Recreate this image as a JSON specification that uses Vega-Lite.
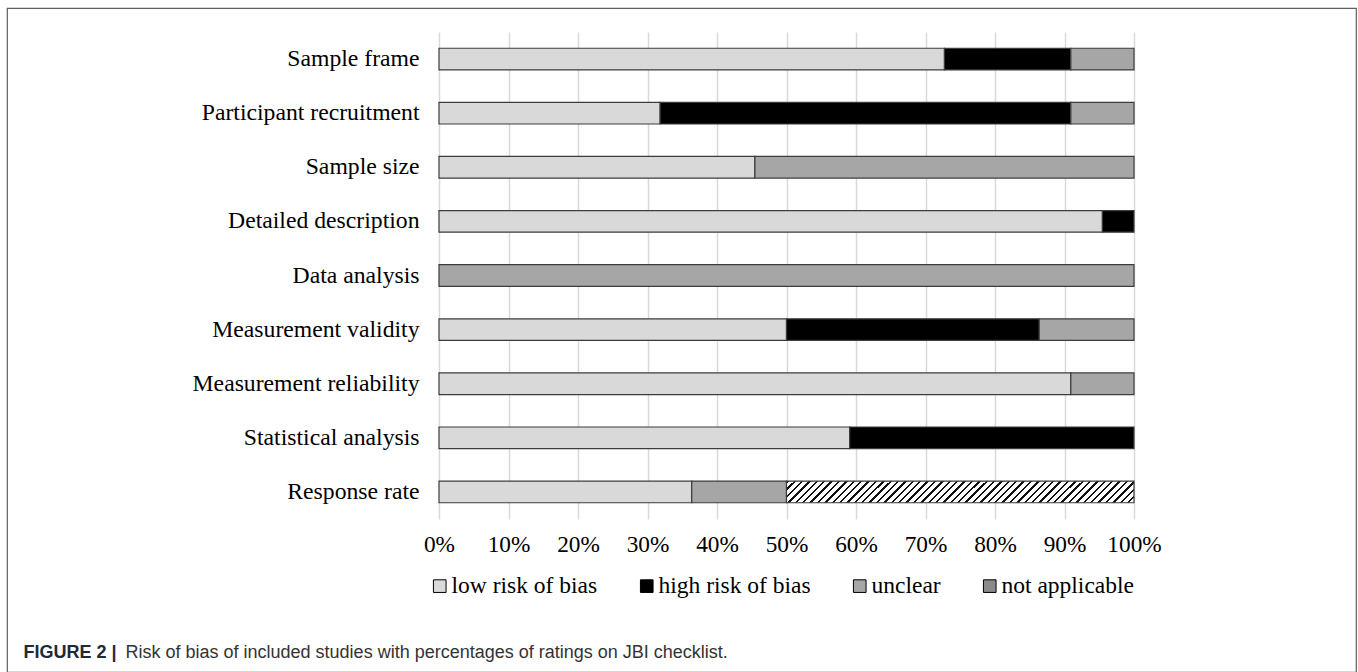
{
  "$schema": "https://vega.github.io/schema/vega-lite/v6.json",
  "autosize": {"type": "none"},
  "width": 1349,
  "height": 664,
  "padding": {"left": 7, "top": 8, "right": 2, "bottom": 0},
  "background": "white",
  "data": {
    "values": [
      {"item": "Sample frame", "rating": "low risk of bias", "k": 1, "n": 16},
      {"item": "Sample frame", "rating": "high risk of bias", "k": 2, "n": 4},
      {"item": "Sample frame", "rating": "unclear", "k": 3, "n": 2},
      {"item": "Participant recruitment", "rating": "low risk of bias", "k": 1, "n": 7},
      {"item": "Participant recruitment", "rating": "high risk of bias", "k": 2, "n": 13},
      {"item": "Participant recruitment", "rating": "unclear", "k": 3, "n": 2},
      {"item": "Sample size", "rating": "low risk of bias", "k": 1, "n": 10},
      {"item": "Sample size", "rating": "unclear", "k": 3, "n": 12},
      {"item": "Detailed description", "rating": "low risk of bias", "k": 1, "n": 21},
      {"item": "Detailed description", "rating": "high risk of bias", "k": 2, "n": 1},
      {"item": "Data analysis", "rating": "unclear", "k": 3, "n": 22},
      {"item": "Measurement validity", "rating": "low risk of bias", "k": 1, "n": 11},
      {"item": "Measurement validity", "rating": "high risk of bias", "k": 2, "n": 8},
      {"item": "Measurement validity", "rating": "unclear", "k": 3, "n": 3},
      {"item": "Measurement reliability", "rating": "low risk of bias", "k": 1, "n": 20},
      {"item": "Measurement reliability", "rating": "unclear", "k": 3, "n": 2},
      {"item": "Statistical analysis", "rating": "low risk of bias", "k": 1, "n": 13},
      {"item": "Statistical analysis", "rating": "high risk of bias", "k": 2, "n": 9},
      {"item": "Response rate", "rating": "low risk of bias", "k": 1, "n": 8},
      {"item": "Response rate", "rating": "unclear", "k": 3, "n": 3},
      {"item": "Response rate", "rating": "not applicable", "k": 4, "n": 11}
    ]
  },
  "mark": {"type": "bar", "stroke": "#3c3c3c", "strokeWidth": 1.2},
  "encoding": {
    "y": {
      "field": "item",
      "type": "nominal",
      "sort": ["Sample frame", "Participant recruitment", "Sample size", "Detailed description", "Data analysis", "Measurement validity", "Measurement reliability", "Statistical analysis", "Response rate"],
      "scale": {"range": [24, 511], "paddingInner": 0.6, "paddingOuter": 0.3},
      "axis": {
        "offset": -432,
        "labelFont": "Liberation Serif",
        "labelFontSize": 23.7,
        "labelColor": "#000000",
        "labelPadding": 20,
        "labelLimit": 400,
        "ticks": false,
        "domain": false,
        "grid": false,
        "title": "FIGURE 2 |",
        "titleX": -416,
        "titleY": 649,
        "titleAngle": 0,
        "titleAlign": "left",
        "titleBaseline": "alphabetic",
        "titleFont": "Liberation Sans",
        "titleFontSize": 18,
        "titleFontWeight": "bold",
        "titleColor": "#1e2a36"
      }
    },
    "x": {
      "field": "n",
      "type": "quantitative",
      "stack": "normalize",
      "scale": {"range": [432, 1127]},
      "axis": {
        "offset": -153,
        "values": [0, 0.1, 0.2, 0.3, 0.4, 0.5, 0.6, 0.7, 0.8, 0.9, 1],
        "format": ".0%",
        "labelFont": "Liberation Serif",
        "labelFontSize": 23.3,
        "labelColor": "#000000",
        "labelPadding": 501,
        "ticks": true,
        "tickSize": -487,
        "tickColor": "#d9d9d9",
        "tickWidth": 1.5,
        "domain": false,
        "grid": false,
        "labelFlush": false,
        "zindex": 0,
        "title": "Risk of bias of included studies with percentages of ratings on JBI checklist.",
        "titleX": 118,
        "titleY": 138,
        "titleAlign": "left",
        "titleBaseline": "alphabetic",
        "titleFont": "Liberation Sans",
        "titleFontSize": 18,
        "titleFontWeight": "normal",
        "titleColor": "#333333"
      }
    },
    "order": {"field": "k", "type": "quantitative"},
    "fill": {
      "field": "rating",
      "type": "nominal",
      "sort": ["low risk of bias", "high risk of bias", "unclear", "not applicable"],
      "scale": {
        "domain": ["low risk of bias", "high risk of bias", "unclear", "not applicable"],
        "range": ["#d9d9d9", "#000000", "#a6a6a6", "#8a8a8a"]
      },
      "condition": {
        "test": "datum.rating === 'not applicable'",
        "value": {
          "gradient": "linear", "x1": 0, "y1": 0, "x2": 1.0584, "y2": 0.06615,
          "stops": [
            {"offset":0,"color":"#111"},{"offset":0.0065,"color":"#111"},{"offset":0.0065,"color":"#fff"},{"offset":0.02,"color":"#fff"},
            {"offset":0.02,"color":"#111"},{"offset":0.0265,"color":"#111"},{"offset":0.0265,"color":"#fff"},{"offset":0.04,"color":"#fff"},
            {"offset":0.04,"color":"#111"},{"offset":0.0465,"color":"#111"},{"offset":0.0465,"color":"#fff"},{"offset":0.06,"color":"#fff"},
            {"offset":0.06,"color":"#111"},{"offset":0.0665,"color":"#111"},{"offset":0.0665,"color":"#fff"},{"offset":0.08,"color":"#fff"},
            {"offset":0.08,"color":"#111"},{"offset":0.0865,"color":"#111"},{"offset":0.0865,"color":"#fff"},{"offset":0.10,"color":"#fff"},
            {"offset":0.10,"color":"#111"},{"offset":0.1065,"color":"#111"},{"offset":0.1065,"color":"#fff"},{"offset":0.12,"color":"#fff"},
            {"offset":0.12,"color":"#111"},{"offset":0.1265,"color":"#111"},{"offset":0.1265,"color":"#fff"},{"offset":0.14,"color":"#fff"},
            {"offset":0.14,"color":"#111"},{"offset":0.1465,"color":"#111"},{"offset":0.1465,"color":"#fff"},{"offset":0.16,"color":"#fff"},
            {"offset":0.16,"color":"#111"},{"offset":0.1665,"color":"#111"},{"offset":0.1665,"color":"#fff"},{"offset":0.18,"color":"#fff"},
            {"offset":0.18,"color":"#111"},{"offset":0.1865,"color":"#111"},{"offset":0.1865,"color":"#fff"},{"offset":0.20,"color":"#fff"},
            {"offset":0.20,"color":"#111"},{"offset":0.2065,"color":"#111"},{"offset":0.2065,"color":"#fff"},{"offset":0.22,"color":"#fff"},
            {"offset":0.22,"color":"#111"},{"offset":0.2265,"color":"#111"},{"offset":0.2265,"color":"#fff"},{"offset":0.24,"color":"#fff"},
            {"offset":0.24,"color":"#111"},{"offset":0.2465,"color":"#111"},{"offset":0.2465,"color":"#fff"},{"offset":0.26,"color":"#fff"},
            {"offset":0.26,"color":"#111"},{"offset":0.2665,"color":"#111"},{"offset":0.2665,"color":"#fff"},{"offset":0.28,"color":"#fff"},
            {"offset":0.28,"color":"#111"},{"offset":0.2865,"color":"#111"},{"offset":0.2865,"color":"#fff"},{"offset":0.30,"color":"#fff"},
            {"offset":0.30,"color":"#111"},{"offset":0.3065,"color":"#111"},{"offset":0.3065,"color":"#fff"},{"offset":0.32,"color":"#fff"},
            {"offset":0.32,"color":"#111"},{"offset":0.3265,"color":"#111"},{"offset":0.3265,"color":"#fff"},{"offset":0.34,"color":"#fff"},
            {"offset":0.34,"color":"#111"},{"offset":0.3465,"color":"#111"},{"offset":0.3465,"color":"#fff"},{"offset":0.36,"color":"#fff"},
            {"offset":0.36,"color":"#111"},{"offset":0.3665,"color":"#111"},{"offset":0.3665,"color":"#fff"},{"offset":0.38,"color":"#fff"},
            {"offset":0.38,"color":"#111"},{"offset":0.3865,"color":"#111"},{"offset":0.3865,"color":"#fff"},{"offset":0.40,"color":"#fff"},
            {"offset":0.40,"color":"#111"},{"offset":0.4065,"color":"#111"},{"offset":0.4065,"color":"#fff"},{"offset":0.42,"color":"#fff"},
            {"offset":0.42,"color":"#111"},{"offset":0.4265,"color":"#111"},{"offset":0.4265,"color":"#fff"},{"offset":0.44,"color":"#fff"},
            {"offset":0.44,"color":"#111"},{"offset":0.4465,"color":"#111"},{"offset":0.4465,"color":"#fff"},{"offset":0.46,"color":"#fff"},
            {"offset":0.46,"color":"#111"},{"offset":0.4665,"color":"#111"},{"offset":0.4665,"color":"#fff"},{"offset":0.48,"color":"#fff"},
            {"offset":0.48,"color":"#111"},{"offset":0.4865,"color":"#111"},{"offset":0.4865,"color":"#fff"},{"offset":0.50,"color":"#fff"},
            {"offset":0.50,"color":"#111"},{"offset":0.5065,"color":"#111"},{"offset":0.5065,"color":"#fff"},{"offset":0.52,"color":"#fff"},
            {"offset":0.52,"color":"#111"},{"offset":0.5265,"color":"#111"},{"offset":0.5265,"color":"#fff"},{"offset":0.54,"color":"#fff"},
            {"offset":0.54,"color":"#111"},{"offset":0.5465,"color":"#111"},{"offset":0.5465,"color":"#fff"},{"offset":0.56,"color":"#fff"},
            {"offset":0.56,"color":"#111"},{"offset":0.5665,"color":"#111"},{"offset":0.5665,"color":"#fff"},{"offset":0.58,"color":"#fff"},
            {"offset":0.58,"color":"#111"},{"offset":0.5865,"color":"#111"},{"offset":0.5865,"color":"#fff"},{"offset":0.60,"color":"#fff"},
            {"offset":0.60,"color":"#111"},{"offset":0.6065,"color":"#111"},{"offset":0.6065,"color":"#fff"},{"offset":0.62,"color":"#fff"},
            {"offset":0.62,"color":"#111"},{"offset":0.6265,"color":"#111"},{"offset":0.6265,"color":"#fff"},{"offset":0.64,"color":"#fff"},
            {"offset":0.64,"color":"#111"},{"offset":0.6465,"color":"#111"},{"offset":0.6465,"color":"#fff"},{"offset":0.66,"color":"#fff"},
            {"offset":0.66,"color":"#111"},{"offset":0.6665,"color":"#111"},{"offset":0.6665,"color":"#fff"},{"offset":0.68,"color":"#fff"},
            {"offset":0.68,"color":"#111"},{"offset":0.6865,"color":"#111"},{"offset":0.6865,"color":"#fff"},{"offset":0.70,"color":"#fff"},
            {"offset":0.70,"color":"#111"},{"offset":0.7065,"color":"#111"},{"offset":0.7065,"color":"#fff"},{"offset":0.72,"color":"#fff"},
            {"offset":0.72,"color":"#111"},{"offset":0.7265,"color":"#111"},{"offset":0.7265,"color":"#fff"},{"offset":0.74,"color":"#fff"},
            {"offset":0.74,"color":"#111"},{"offset":0.7465,"color":"#111"},{"offset":0.7465,"color":"#fff"},{"offset":0.76,"color":"#fff"},
            {"offset":0.76,"color":"#111"},{"offset":0.7665,"color":"#111"},{"offset":0.7665,"color":"#fff"},{"offset":0.78,"color":"#fff"},
            {"offset":0.78,"color":"#111"},{"offset":0.7865,"color":"#111"},{"offset":0.7865,"color":"#fff"},{"offset":0.80,"color":"#fff"},
            {"offset":0.80,"color":"#111"},{"offset":0.8065,"color":"#111"},{"offset":0.8065,"color":"#fff"},{"offset":0.82,"color":"#fff"},
            {"offset":0.82,"color":"#111"},{"offset":0.8265,"color":"#111"},{"offset":0.8265,"color":"#fff"},{"offset":0.84,"color":"#fff"},
            {"offset":0.84,"color":"#111"},{"offset":0.8465,"color":"#111"},{"offset":0.8465,"color":"#fff"},{"offset":0.86,"color":"#fff"},
            {"offset":0.86,"color":"#111"},{"offset":0.8665,"color":"#111"},{"offset":0.8665,"color":"#fff"},{"offset":0.88,"color":"#fff"},
            {"offset":0.88,"color":"#111"},{"offset":0.8865,"color":"#111"},{"offset":0.8865,"color":"#fff"},{"offset":0.90,"color":"#fff"},
            {"offset":0.90,"color":"#111"},{"offset":0.9065,"color":"#111"},{"offset":0.9065,"color":"#fff"},{"offset":0.92,"color":"#fff"},
            {"offset":0.92,"color":"#111"},{"offset":0.9265,"color":"#111"},{"offset":0.9265,"color":"#fff"},{"offset":0.94,"color":"#fff"},
            {"offset":0.94,"color":"#111"},{"offset":0.9465,"color":"#111"},{"offset":0.9465,"color":"#fff"},{"offset":0.96,"color":"#fff"},
            {"offset":0.96,"color":"#111"},{"offset":0.9665,"color":"#111"},{"offset":0.9665,"color":"#fff"},{"offset":0.98,"color":"#fff"},
            {"offset":0.98,"color":"#111"},{"offset":0.9865,"color":"#111"},{"offset":0.9865,"color":"#fff"},{"offset":1,"color":"#fff"}
          ]
        }
      },
      "legend": {
        "orient": "none",
        "legendX": 421,
        "legendY": 566,
        "direction": "horizontal",
        "title": null,
        "padding": 0,
        "symbolType": "square",
        "symbolSize": 160,
        "symbolStrokeColor": "#000000",
        "symbolStrokeWidth": 1,
        "labelFont": "Liberation Serif",
        "labelFontSize": 23.5,
        "labelColor": "#000000",
        "labelOffset": 0,
        "labelLimit": 300,
        "columnPadding": 37
      }
    }
  },
  "config": {
    "view": {"stroke": "#5e5e5e", "strokeWidth": 1.2, "fill": "white"}
  }
}
